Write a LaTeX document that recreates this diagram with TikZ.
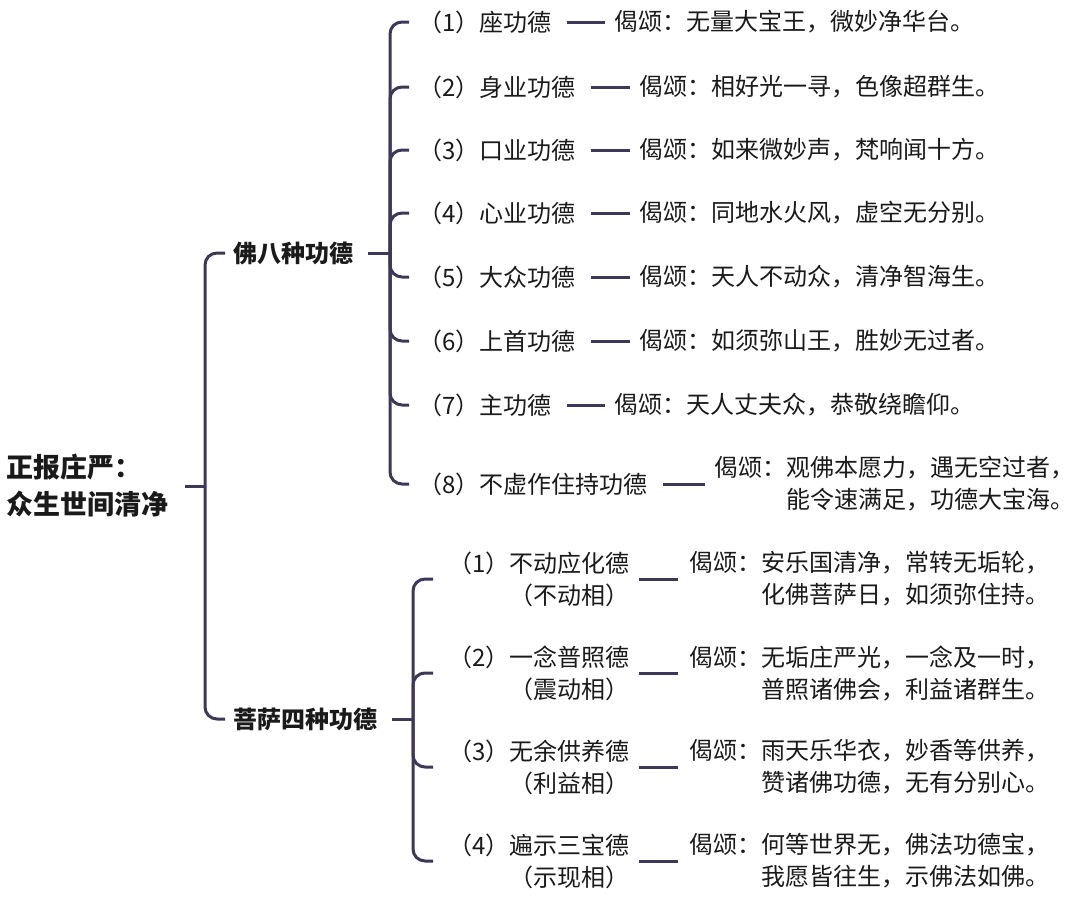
\documentclass[tikz,border=0pt]{standalone}
\usepackage{fontspec}
\setmainfont{Noto Sans CJK SC}
\definecolor{linec}{HTML}{3C3858}
\definecolor{textc}{HTML}{1A1A1A}

\tikzset{
  spine/.style={draw=linec, line width=3pt, rounded corners=12pt, shorten >=9pt},
  stub/.style={draw=linec, line width=3pt, shorten <=15pt},
  link/.style={draw=linec, line width=3pt, shorten <=15pt, shorten >=9pt},
  itembox/.style={anchor=west, inner sep=0pt, text=textc, align=left, font=\fontsize{24}{32}\selectfont},
  subitembox/.style={itembox, align=right},
  headbox/.style={itembox, font=\fontsize{24}{32}\selectfont\bfseries},
  rootbox/.style={itembox, font=\fontsize{27}{37}\selectfont\bfseries}
}

\begin{document}
\begin{tikzpicture}[x=1pt, y=-1pt]
    \useasboundingbox[fill=white] (0,0) rectangle (1080,906);

    % root and its two branches
    \node[rootbox] (zb) at (6,486) {正报庄严：\\众生世间清净};
    \coordinate (zbfork) at (205,486);

    \node[headbox] (fo) at (233,253) {佛八种功德};
    \node[headbox] (pusa) at (233,719) {菩萨四种功德};
    \coordinate (fofork) at (390,253);
    \coordinate (pusafork) at (413,719);

    % eight merits of the Buddha
    \node[itembox] (f1) at (418,22) {（1）座功德};
    \node[itembox] (f2) at (418,87) {（2）身业功德};
    \node[itembox] (f3) at (418,150) {（3）口业功德};
    \node[itembox] (f4) at (418,213) {（4）心业功德};
    \node[itembox] (f5) at (418,277) {（5）大众功德};
    \node[itembox] (f6) at (418,341) {（6）上首功德};
    \node[itembox] (f7) at (418,405) {（7）主功德};
    \node[itembox] (f8) at (418,484) {（8）不虚作住持功德};

    \node[itembox] (fv1) at (614,22) {偈颂：无量大宝王，微妙净华台。};
    \node[itembox] (fv2) at (639,87) {偈颂：相好光一寻，色像超群生。};
    \node[itembox] (fv3) at (639,150) {偈颂：如来微妙声，梵响闻十方。};
    \node[itembox] (fv4) at (639,213) {偈颂：同地水火风，虚空无分别。};
    \node[itembox] (fv5) at (639,277) {偈颂：天人不动众，清净智海生。};
    \node[itembox] (fv6) at (639,341) {偈颂：如须弥山王，胜妙无过者。};
    \node[itembox] (fv7) at (614,405) {偈颂：天人丈夫众，恭敬绕瞻仰。};
    \node[itembox] (fv8) at (714,484) {偈颂：观佛本愿力，遇无空过者，\\\phantom{偈颂：}能令速满足，功德大宝海。};

    % four merits of the bodhisattvas
    \node[subitembox] (p1) at (448,579) {（1）不动应化德\\（不动相）};
    \node[subitembox] (p2) at (448,673) {（2）一念普照德\\（震动相）};
    \node[subitembox] (p3) at (448,767) {（3）无余供养德\\（利益相）};
    \node[subitembox] (p4) at (448,861) {（4）遍示三宝德\\（示现相）};

    \node[itembox] (pv1) at (689,579) {偈颂：安乐国清净，常转无垢轮，\\\phantom{偈颂：}化佛菩萨日，如须弥住持。};
    \node[itembox] (pv2) at (689,673) {偈颂：无垢庄严光，一念及一时，\\\phantom{偈颂：}普照诸佛会，利益诸群生。};
    \node[itembox] (pv3) at (689,767) {偈颂：雨天乐华衣，妙香等供养，\\\phantom{偈颂：}赞诸佛功德，无有分别心。};
    \node[itembox] (pv4) at (689,861) {偈颂：何等世界无，佛法功德宝，\\\phantom{偈颂：}我愿皆往生，示佛法如佛。};

    % brackets
    \draw[stub, shorten <=17pt] (zb.east) -- (zbfork);
    \draw[spine, shorten >=8pt] (zbfork) |- (fo.west);
    \draw[spine, shorten >=8pt] (zbfork) |- (pusa.west);

    \draw[stub] (fo.east) -- (fofork);
    \draw[spine] (fofork) |- (f1.west);
    \draw[spine] (fofork) |- (f2.west);
    \draw[spine] (fofork) |- (f3.west);
    \draw[spine] (fofork) |- (f4.west);
    \draw[spine] (fofork) |- (f5.west);
    \draw[spine] (fofork) |- (f6.west);
    \draw[spine] (fofork) |- (f7.west);
    \draw[spine] (fofork) |- (f8.west);

    \draw[stub] (pusa.east) -- (pusafork);
    \draw[spine, shorten >=15pt] (pusafork) |- (p1.west);
    \draw[spine, shorten >=15pt] (pusafork) |- (p2.west);
    \draw[spine, shorten >=15pt] (pusafork) |- (p3.west);
    \draw[spine, shorten >=15pt] (pusafork) |- (p4.west);

    % merit -- verse
    \draw[link] (f1.east) -- (fv1.west);
    \draw[link] (f2.east) -- (fv2.west);
    \draw[link] (f3.east) -- (fv3.west);
    \draw[link] (f4.east) -- (fv4.west);
    \draw[link] (f5.east) -- (fv5.west);
    \draw[link] (f6.east) -- (fv6.west);
    \draw[link] (f7.east) -- (fv7.west);
    \draw[link] (f8.east) -- (fv8.west);

    \draw[link, shorten <=9pt, shorten >=11pt] (p1.east) -- (pv1.west);
    \draw[link, shorten <=9pt, shorten >=11pt] (p2.east) -- (pv2.west);
    \draw[link, shorten <=9pt, shorten >=11pt] (p3.east) -- (pv3.west);
    \draw[link, shorten <=9pt, shorten >=11pt] (p4.east) -- (pv4.west);
\end{tikzpicture}
\end{document}
